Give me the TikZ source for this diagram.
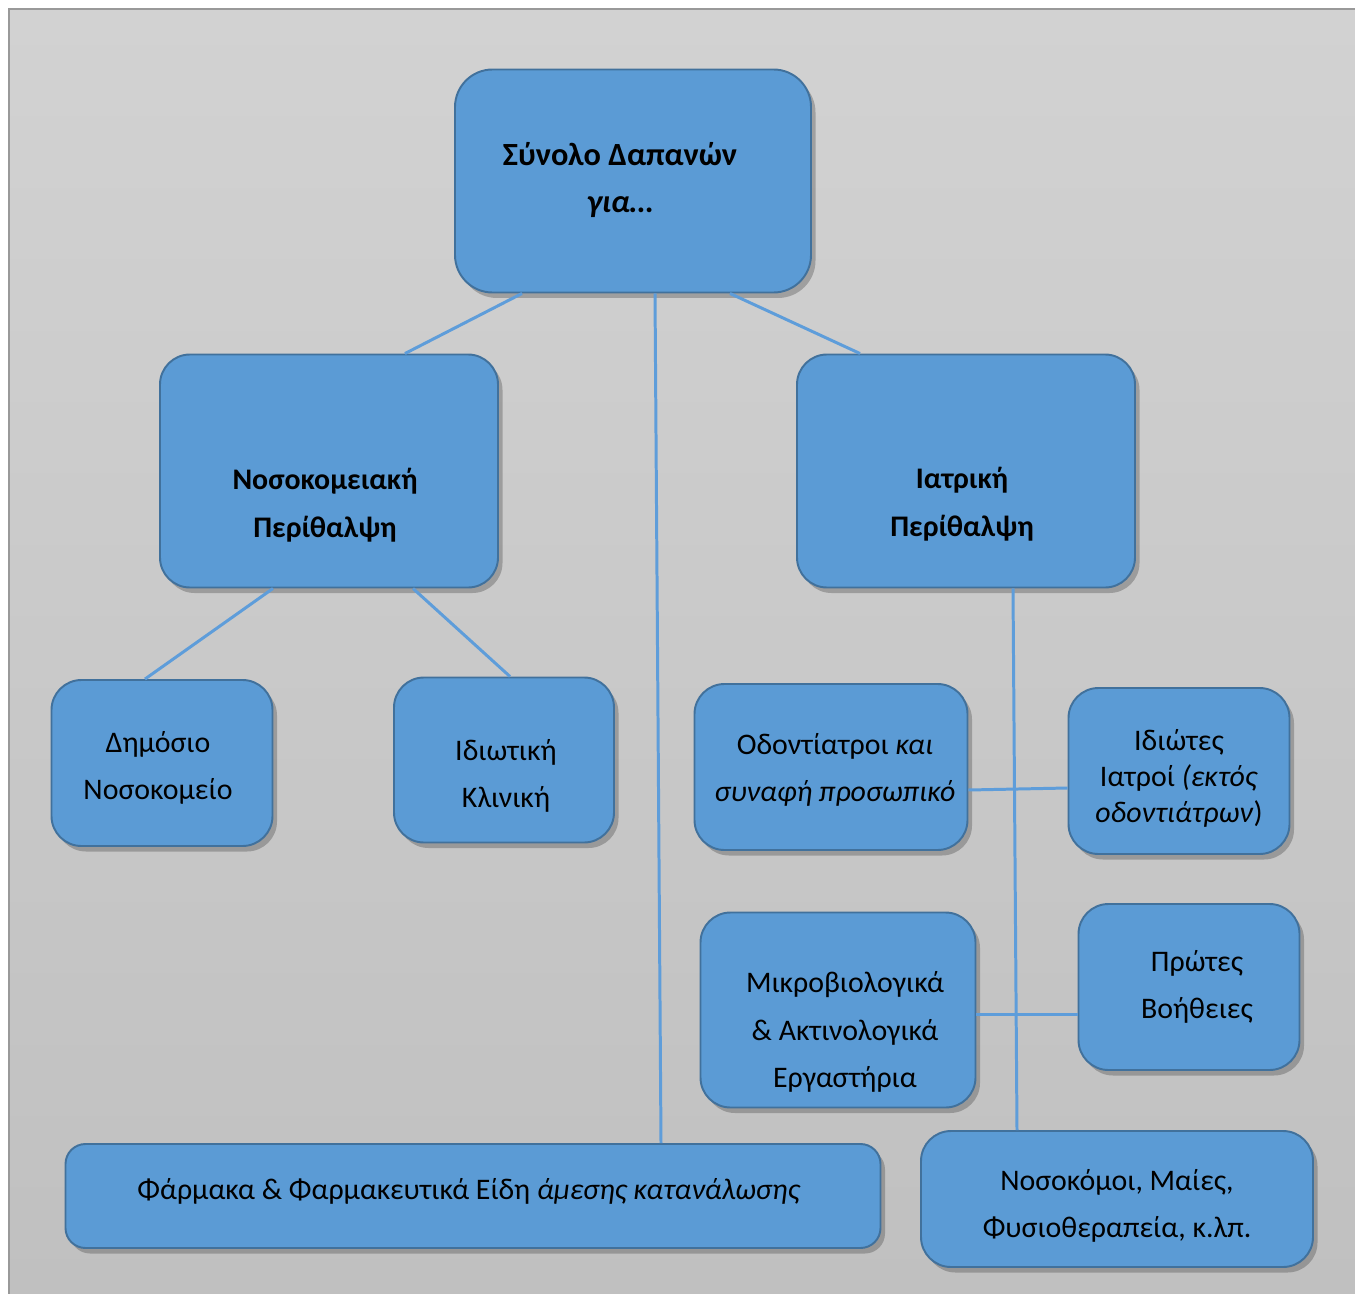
\documentclass[tikz,border=0pt]{standalone}
\usepackage{fontspec}
\setmainfont{Carlito}
\usetikzlibrary{calc,shadows}
\definecolor{boxfill}{HTML}{5B9BD5}
\definecolor{boxedge}{HTML}{41719C}
\definecolor{linkblue}{HTML}{5E9DDA}
\definecolor{bgtop}{HTML}{D2D2D2}
\definecolor{bgbot}{HTML}{C0C0C0}

\tikzset{
 catbox/.style={draw=boxedge, fill=boxfill, line width=1.1pt, rounded corners=0.6cm, inner sep=0pt,
  drop shadow={shadow xshift=0.09cm, shadow yshift=-0.11cm, opacity=0.3, fill=black!80}},
 boxdim/.style 2 args={minimum width=#1*0.02cm, minimum height=#2*0.02cm},
 cattext/.style={align=center, inner sep=0pt, font=\fontsize{17}{27}\selectfont},
 heavy/.style={font=\fontsize{17}{27}\selectfont\bfseries},
 linkline/.style={draw=linkblue, line width=1.7pt}
}

\begin{document}
\begin{tikzpicture}[x=0.02cm, y=-0.02cm]
\useasboundingbox (0,0) rectangle (1355,1294);
\fill[white] (0,0) rectangle (1355,1294);
\shade[top color=bgtop, bottom color=bgbot] (9,9) rectangle (1355,1294);
\draw[gray!80, line width=0.8pt] (9,1294)--(9,9)--(1355,9);

\node[catbox, boxdim={356}{223}, rounded corners=0.75cm] (total) at (633,181) {};
\node[catbox, boxdim={338}{233}] (hosp) at (329,471) {};
\node[catbox, boxdim={338}{233}] (med) at (966,471) {};
\node[catbox, boxdim={221}{166}] (pub) at (162,763) {};
\node[catbox, boxdim={220}{165}] (priv) at (504,760) {};
\node[catbox, boxdim={273}{166}] (dent) at (831,767) {};
\node[catbox, boxdim={221}{166}] (docs) at (1179,771) {};
\node[catbox, boxdim={275}{195}] (labs) at (838,1010) {};
\node[catbox, boxdim={221}{166}] (aid) at (1189,987) {};
\node[catbox, boxdim={815}{104}, rounded corners=0.4cm] (drugs) at (473,1196) {};
\node[catbox, boxdim={392}{136}] (nurse) at (1117,1199) {};

\node[cattext, font=\fontsize{18.4}{27}\selectfont\bfseries] (total-t) at ($(total)+(-13,-1)$) {Σύνολο Δαπανών\\\textit{για…}};
\node[cattext, heavy] (hosp-t) at ($(hosp)+(-4,34)$) {Νοσοκομειακή\\Περίθαλψη};
\node[cattext, heavy] (med-t) at ($(med)+(-4,33)$) {Ιατρική\\Περίθαλψη};
\node[cattext] (pub-t) at ($(pub)+(-4,5)$) {Δημόσιο\\Νοσοκομείο};
\node[cattext] (priv-t) at ($(priv)+(2,16)$) {Ιδιωτική\\Κλινική};
\node[cattext] (dent-t) at ($(dent)+(4,3)$) {Οδοντίατροι \textit{και}\\\textit{συναφή προσωπικό}};
\node[cattext, font=\fontsize{17}{20.5}\selectfont] (docs-t) at ($(docs)+(0,7)$) {Ιδιώτες\\Ιατροί \textit{(εκτός}\\\textit{οδοντιάτρων})};
\node[cattext] (labs-t) at ($(labs)+(7,22)$) {Μικροβιολογικά\\\& Ακτινολογικά\\Εργαστήρια};
\node[cattext] (aid-t) at ($(aid)+(8,0)$) {Πρώτες\\Βοήθειες};
\node[cattext] (drugs-t) at ($(drugs)+(-4,-5)$) {Φάρμακα \& Φαρμακευτικά Είδη \textit{άμεσης κατανάλωσης}};
\node[cattext] (nurse-t) at ($(nurse)+(0,7)$) {Νοσοκόμοι, Μαίες,\\Φυσιοθεραπεία, κ.λπ.};

\draw[linkline] ($(total.south)+(-111,0)$)--($(hosp.north)+(76,0)$);
\draw[linkline] ($(total.south)+(22,0)$)--($(drugs.north)+(188,0)$);
\draw[linkline] ($(total.south)+(97,0)$)--($(med.north)+(-106,0)$);
\draw[linkline] ($(hosp.south)+(-56,0)$)--($(pub.north)+(-17,0)$);
\draw[linkline] ($(hosp.south)+(84,0)$)--($(priv.north)+(6,0)$);
\draw[linkline] ($(med.south)+(47,0)$)--($(nurse.north)+(-100,0)$);
\draw[linkline] ($(dent.east)+(0,23)$)--($(docs.west)+(0,17)$);
\draw[linkline] ($(labs.east)+(0,4)$)--($(aid.west)+(0,27)$);
\end{tikzpicture}
\end{document}
